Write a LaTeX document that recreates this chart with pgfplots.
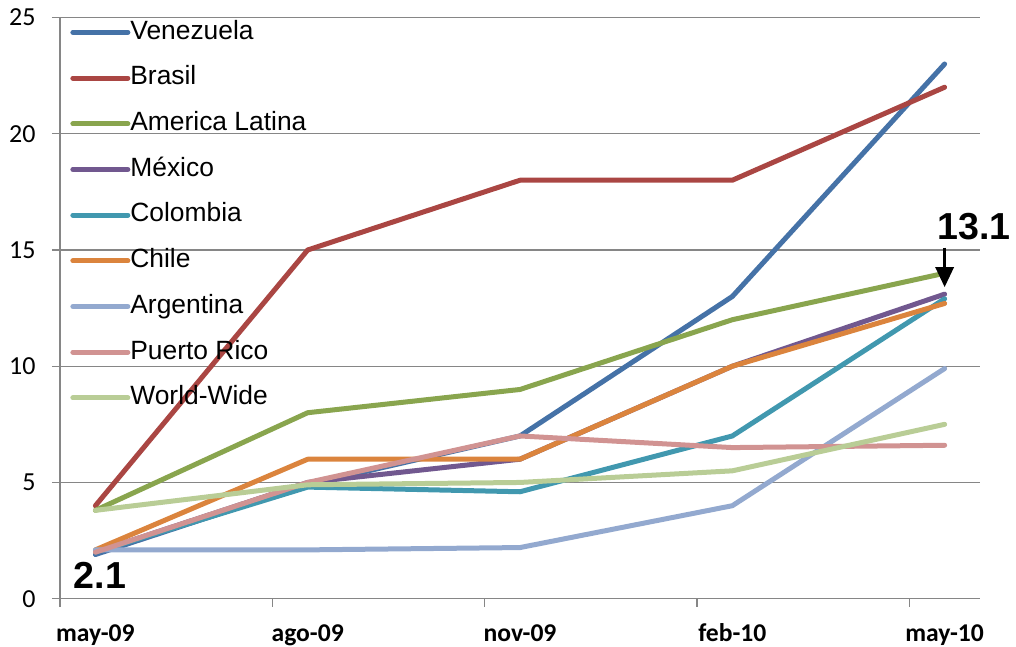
\documentclass[border=0pt]{standalone}
\usepackage{pgfplots}
\pgfplotsset{compat=1.18}
\usetikzlibrary{arrows.meta}
\usepackage{fontspec}
\setmainfont{Liberation Sans}
\newfontfamily\carlito{Carlito}
\definecolor{axgray}{HTML}{868686}
\definecolor{cVen}{HTML}{4572A7}
\definecolor{cBra}{HTML}{AA4643}
\definecolor{cAml}{HTML}{89A54E}
\definecolor{cMex}{HTML}{71588F}
\definecolor{cCol}{HTML}{4198AF}
\definecolor{cChi}{HTML}{DB843D}
\definecolor{cArg}{HTML}{93A9CF}
\definecolor{cPur}{HTML}{D19392}
\definecolor{cWor}{HTML}{B9CD96}
\begin{document}
\begin{tikzpicture}
\begin{axis}[
  at={(0,0)}, anchor=south west,
  scale only axis, width=460pt, height=290.6pt,
  xmin=0, xmax=4.3333, ymin=0, ymax=25,
  clip=false,
  axis x line*=bottom, axis y line*=left,
  axis line style={draw=axgray, line width=0.7pt, -},
  ytick={0,5,10,15,20,25},
  ymajorgrids, grid style={draw=axgray, line width=0.7pt},
  xtick={0,1,2,3,4}, xticklabels={},
  tick align=outside, major tick length=4pt,
  tick style={draw=axgray, line width=0.7pt},
  /pgf/number format/assume math mode=true,
  yticklabel style={font=\carlito\fontsize{13}{13}\selectfont, anchor=east, inner sep=0pt, xshift=-8pt},
  extra x ticks={0.1667,1.1667,2.1667,3.1667,4.1667},
  extra x tick labels={may-09,ago-09,nov-09,feb-10,may-10},
  extra x tick style={major tick length=0pt, tick label style={font=\carlito\bfseries\fontsize{12.8}{12.8}\selectfont, anchor=base, inner sep=0pt, yshift=-21.2pt}},
  legend style={draw=none, fill=none, at={(rel axis cs:0.0043,1.003)}, anchor=north west,
    font=\fontsize{13.2}{13.2}\selectfont, row sep=10.65pt,
    nodes={inner sep=0pt, text height=9.5pt, text depth=2.7pt},
    /tikz/every odd column/.append style={column sep=0pt}},
  legend cell align=left,
  legend image code/.code={\draw[#1, line width=2.5pt, line cap=round] (0pt,0pt) -- (27.5pt,0pt);},
  every axis plot/.append style={line width=2.5pt, line cap=round, line join=round},
]
\addplot[cVen] coordinates {(0.1667,1.9) (1.1667,4.9) (2.1667,7.0) (3.1667,13.0) (4.1667,23.0)};
\addlegendentry{Venezuela}
\addplot[cBra] coordinates {(0.1667,4.0) (1.1667,15.0) (2.1667,18.0) (3.1667,18.0) (4.1667,22.0)};
\addlegendentry{Brasil}
\addplot[cAml] coordinates {(0.1667,3.8) (1.1667,8.0) (2.1667,9.0) (3.1667,12.0) (4.1667,14.0)};
\addlegendentry{America Latina}
\addplot[cMex] coordinates {(0.1667,2.0) (1.1667,5.0) (2.1667,6.0) (3.1667,10.0) (4.1667,13.1)};
\addlegendentry{México}
\addplot[cCol] coordinates {(0.1667,2.0) (1.1667,4.8) (2.1667,4.6) (3.1667,7.0) (4.1667,12.9)};
\addlegendentry{Colombia}
\addplot[cChi] coordinates {(0.1667,2.1) (1.1667,6.0) (2.1667,6.0) (3.1667,10.0) (4.1667,12.7)};
\addlegendentry{Chile}
\addplot[cArg] coordinates {(0.1667,2.1) (1.1667,2.1) (2.1667,2.2) (3.1667,4.0) (4.1667,9.9)};
\addlegendentry{Argentina}
\addplot[cPur] coordinates {(0.1667,2.0) (1.1667,5.0) (2.1667,7.0) (3.1667,6.5) (4.1667,6.6)};
\addlegendentry{Puerto Rico}
\addplot[cWor] coordinates {(0.1667,3.8) (1.1667,4.9) (2.1667,5.0) (3.1667,5.5) (4.1667,7.5)};
\addlegendentry{World-Wide}
\draw[line width=1.5pt, -{Triangle[width=9pt,length=10pt]}] (axis cs:4.1667,15.1) -- (axis cs:4.1667,13.4);
\node[font=\bfseries\fontsize{18.8}{18.8}\selectfont, inner sep=0pt] at (axis cs:4.306,16.0) {13.1};
\node[font=\bfseries\fontsize{18.8}{18.8}\selectfont, inner sep=0pt] at (axis cs:0.188,1.02) {2.1};
\end{axis}
\pgfresetboundingbox
\path (-30pt,-24.15pt) rectangle (478pt,299.35pt);
\end{tikzpicture}
\end{document}
